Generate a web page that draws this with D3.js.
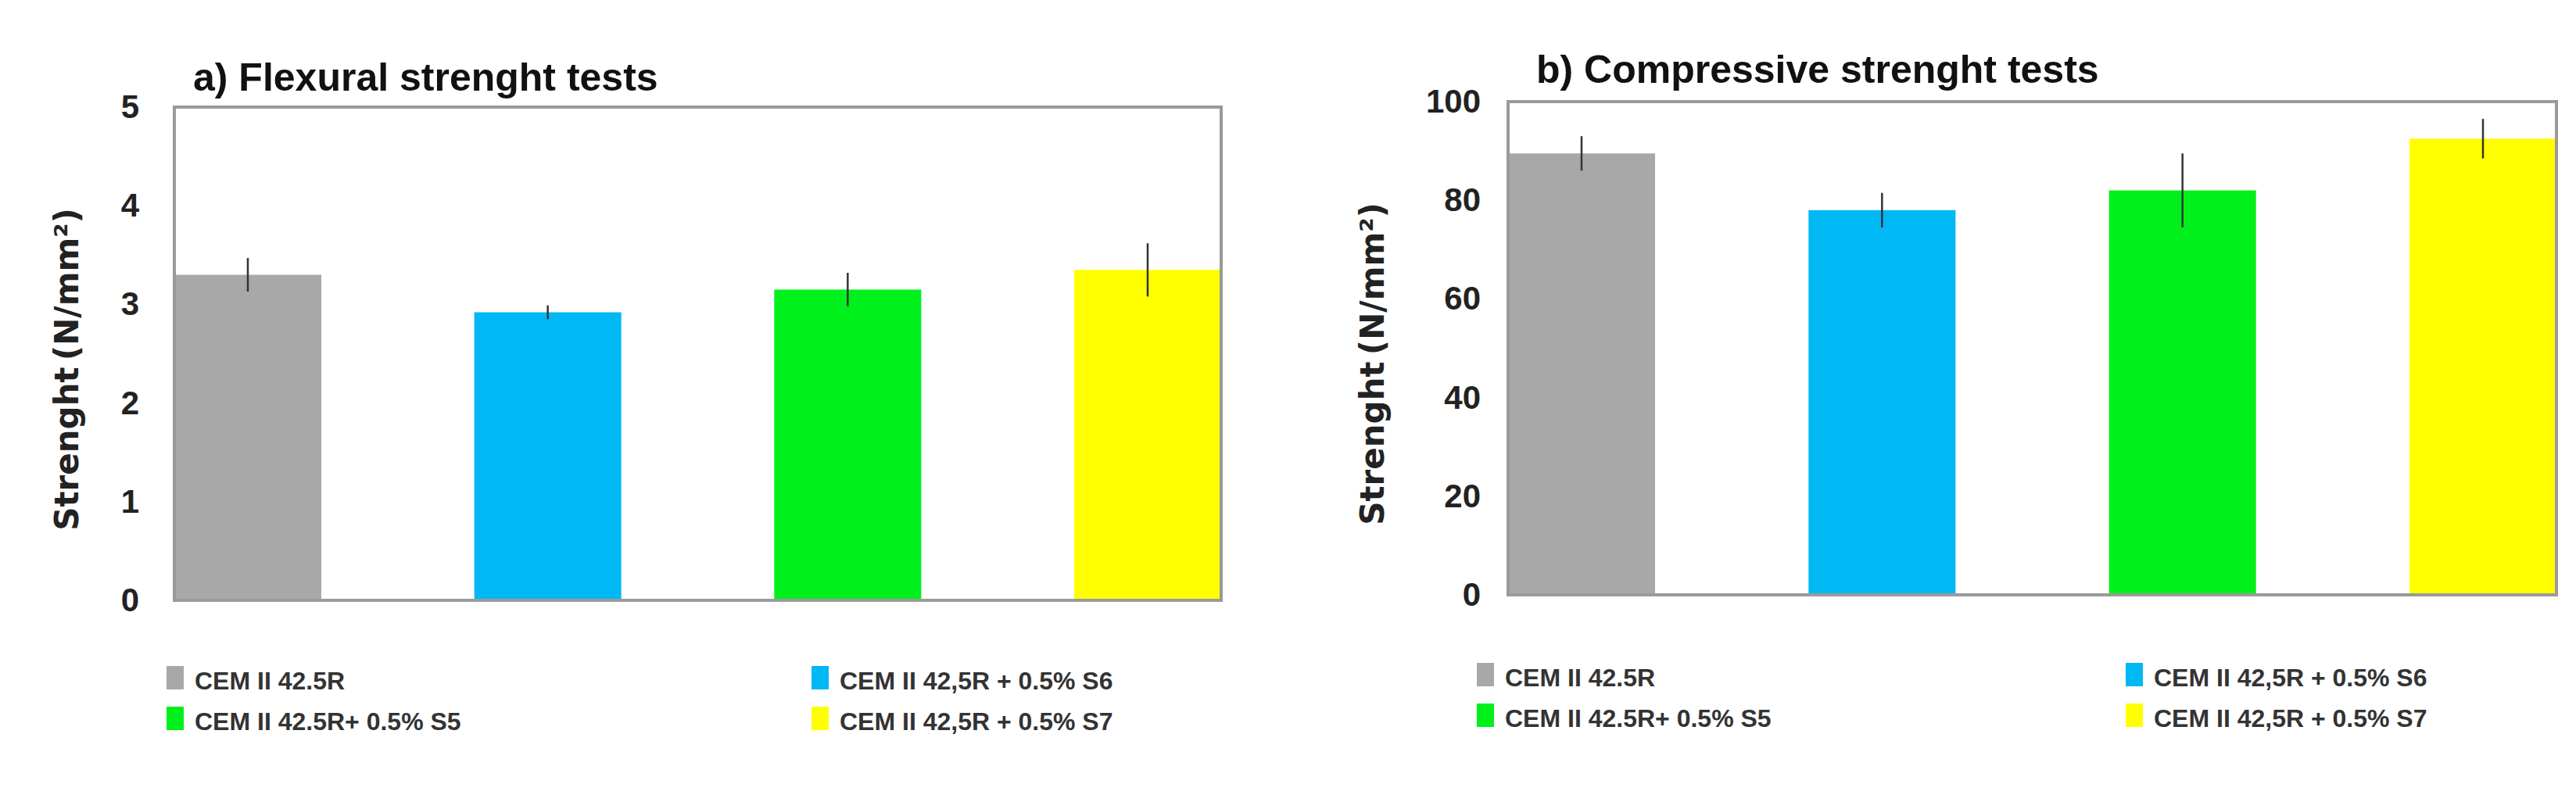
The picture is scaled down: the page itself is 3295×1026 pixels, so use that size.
<!DOCTYPE html>
<html><head><meta charset="utf-8">
<script src="https://cdn.jsdelivr.net/npm/d3@7"></script>
<style>body{margin:0;background:#fff}</style>
</head><body>
<script>
// data
var categories = ["CEM II 42.5R", "CEM II 42,5R + 0.5% S6", "CEM II 42.5R+ 0.5% S5", "CEM II 42,5R + 0.5% S7"];
var colors = ["#a8a8a8", "#00b8f4", "#00f01c", "#ffff00"];
var flexural = [3.3, 2.92, 3.15, 3.35];
var flexuralErr = [0.17, 0.07, 0.17, 0.27];
var compressive = [89.5, 78, 82, 92.5];
var compressiveErr = [3.5, 3.5, 7.5, 4];
var flexTicks = [0, 1, 2, 3, 4, 5];
var compTicks = [0, 20, 40, 60, 80, 100];
// legend order: column 1 then column 2
var legendOrder = [0, 2, 1, 3];

var FONT = "Liberation Sans";

var svg = d3.select("body").append("svg").attr("width", 3295).attr("height", 1026);

function panel(p) {
  var g = svg.append("g");
  var x = d3.scalePoint().domain(d3.range(4)).range([p.left + 94, p.right - 94]);
  var y = d3.scaleLinear().domain([0, p.max]).range([p.bottom, p.top]);

  // bars
  g.selectAll("rect.bar").data(p.values).enter().append("rect")
      .attr("x", function(d, i) { return x(i) - 94; })
      .attr("width", 188)
      .attr("y", function(d) { return y(d); })
      .attr("height", function(d) { return y(0) - y(d); })
      .attr("fill", function(d, i) { return colors[i]; });

  // error bars
  g.selectAll("line.err").data(p.values).enter().append("line")
      .attr("x1", function(d, i) { return x(i); })
      .attr("x2", function(d, i) { return x(i); })
      .attr("y1", function(d, i) { return y(d + p.err[i]); })
      .attr("y2", function(d, i) { return y(d - p.err[i]); })
      .attr("stroke", "#333").attr("stroke-width", 2.5);

  // frame
  g.append("rect").attr("x", p.left).attr("y", p.top)
      .attr("width", p.right - p.left).attr("height", p.bottom - p.top)
      .attr("fill", "none").attr("stroke", "#9a9a9a").attr("stroke-width", 4);

  // y axis
  var ax = g.append("g").attr("transform", "translate(" + p.left + ",0)")
      .call(d3.axisLeft(y).tickValues(p.ticks).tickFormat(d3.format("d")).tickSize(0).tickPadding(p.pad));
  ax.select(".domain").remove();
  ax.selectAll("text").attr("font-family", FONT).attr("font-weight", "bold")
      .attr("font-size", 42).attr("fill", "#222");

  // title
  g.append("text").attr("x", p.titleX).attr("y", p.titleY)
      .attr("font-family", FONT).attr("font-weight", "bold")
      .attr("font-size", 50).attr("fill", "#111").text(p.title);

  // y axis title
  g.append("text").attr("transform", "translate(" + p.ylabX + "," + ((p.top + p.bottom) / 2 + 20) + ") rotate(-90)")
      .attr("text-anchor", "middle").attr("font-family", "DejaVu Sans").attr("font-weight", "bold")
      .attr("font-size", 42).attr("fill", "#222").text("Strenght\u2009(N/mm\u00b2)");

  // legend
  legendOrder.forEach(function(c, k) {
    var lx = k < 2 ? p.legX1 : p.legX2;
    var ly = k % 2 === 0 ? p.legY : p.legY + 52;
    g.append("rect").attr("x", lx).attr("y", ly - 30).attr("width", 22).attr("height", 30).attr("fill", colors[c]);
    g.append("text").attr("x", lx + 36).attr("y", ly)
        .attr("font-family", FONT).attr("font-weight", "bold")
        .attr("font-size", 32).attr("fill", "#333").text(categories[c]);
  });
}

panel({left: 223, right: 1562, top: 137, bottom: 768, max: 5, values: flexural, err: flexuralErr,
  ticks: flexTicks, pad: 45, title: "a) Flexural strenght tests", titleX: 247, titleY: 116,
  ylabX: 100, legX1: 213, legX2: 1038, legY: 882});
panel({left: 1929, right: 3270, top: 130, bottom: 761, max: 100, values: compressive, err: compressiveErr,
  ticks: compTicks, pad: 35, title: "b) Compressive strenght tests", titleX: 1965, titleY: 106,
  ylabX: 1770, legX1: 1889, legX2: 2719, legY: 878});
</script>
</body></html>
